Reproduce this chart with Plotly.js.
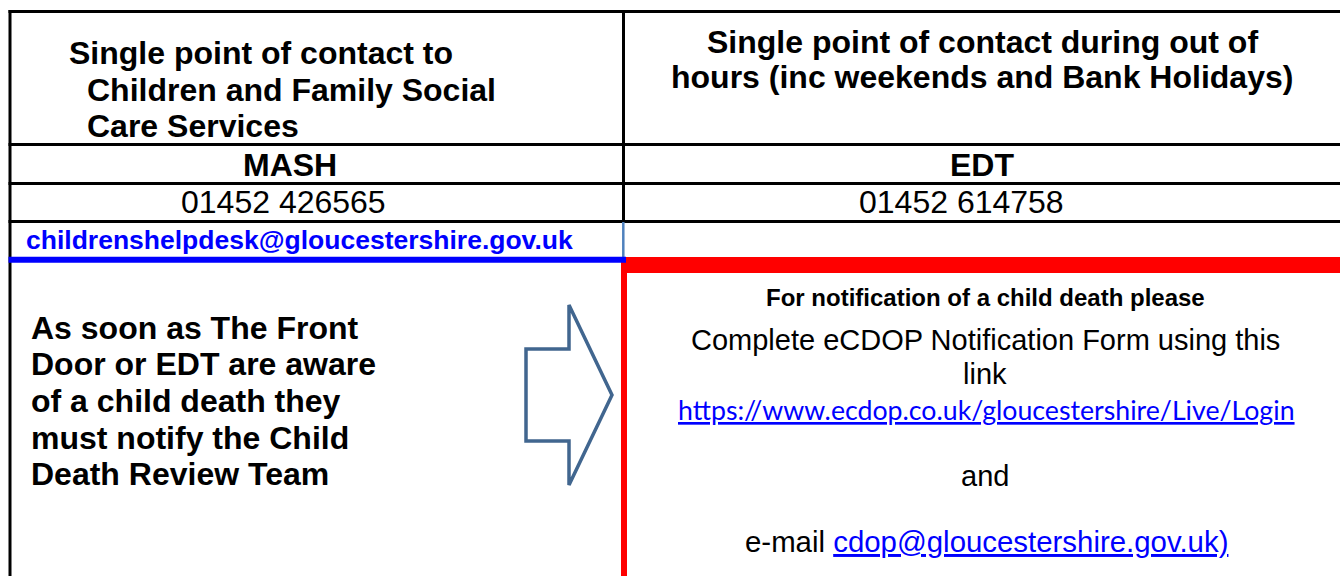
<!DOCTYPE html>
<html>
<head>
<meta charset="utf-8">
<script src="https://cdn.plot.ly/plotly-3.0.1.min.js"></script>
<style>html,body{margin:0;padding:0;background:#fff;}#chart{width:1340px;height:576px;}</style>
</head>
<body>
<div id="chart"></div>
<script>
// ---- content ----
const headerLeftLines = ["Single point of contact to", "Children and Family Social", "Care Services"];
const headerRightLines = ["Single point of contact during out of", "hours (inc weekends and Bank Holidays)"];
const services = ["MASH", "EDT"];
const phones = ["01452 426565", "01452 614758"];
const helpdeskEmail = "childrenshelpdesk@gloucestershire.gov.uk";
const actionLines = ["As soon as The Front", "Door or EDT are aware", "of a child death they", "must notify the Child", "Death Review Team"];
const notifyHeading = "For notification of a child death please";
const notifyLines = ["Complete eCDOP Notification Form using this", "link"];
const notifyUrl = "https://www.ecdop.co.uk/gloucestershire/Live/Login";
const notifyAnd = "and";
const emailPrefix = "e-mail ";
const cdopEmail = "cdop@gloucestershire.gov.uk)";

// ---- layout constants ----
const W = 1340, H = 576;
const FONT = "Liberation Sans, Arial, sans-serif";
const BLACK = "#000000", LINK = "#0000ff", RED = "#ff0000", ARROW = "#41668f";
const colX = 623.5;
const rowY = [11.5, 144.5, 183.5, 221.5];

const annotations = [];
function add(text, x, y, size, opts) {
  annotations.push(Object.assign({
    text: text, x: x, y: y, xref: "x", yref: "y", showarrow: false,
    xanchor: "center", yanchor: "middle",
    font: {family: FONT, size: size, color: BLACK}
  }, opts || {}));
}

const headerLeftX = [67, 85, 85];
const headerLeftY = [53, 90, 126];
headerLeftLines.forEach((t, i) => add("<b>" + t + "</b>", headerLeftX[i], headerLeftY[i], 32, {xanchor: "left"}));
const headerRightY = [42, 77];
headerRightLines.forEach((t, i) => add("<b>" + t + "</b>", 982, headerRightY[i], 32));

const serviceX = [290, 982];
services.forEach((t, i) => add("<b>" + t + "</b>", serviceX[i], 165, 32));
const phoneX = [283, 961];
phones.forEach((t, i) => add(t, phoneX[i], 202, 32));

add("<b>" + helpdeskEmail + "</b>", 24, 240, 26.5, {xanchor: "left", font: {family: FONT, size: 26.5, color: LINK}});

const actionY = [328, 364, 401, 438, 474];
actionLines.forEach((t, i) => add("<b>" + t + "</b>", 29, actionY[i], 32, {xanchor: "left"}));

add("<b>" + notifyHeading + "</b>", 985, 297, 24);
const notifyY = [340, 374];
notifyLines.forEach((t, i) => add(t, 985, notifyY[i], 29));
add('<span style="text-decoration:underline">' + notifyUrl + '</span>', 986, 410, 26.7,
    {font: {family: "Lato, Carlito, sans-serif", size: 26.7, color: LINK}});
add(notifyAnd, 985, 476, 29);
add(emailPrefix + '<span style="color:' + LINK + ';text-decoration:underline">' + cdopEmail + '</span>', 986, 541, 29.4);

// ---- table lines ----
const shapes = [];
function line(x0, y0, x1, y1, color, width) {
  shapes.push({type: "line", xref: "x", yref: "y", x0: x0, y0: y0, x1: x1, y1: y1, line: {color: color, width: width}});
}
function rect(x0, y0, x1, y1, color) {
  shapes.push({type: "rect", xref: "x", yref: "y", x0: x0, y0: y0, x1: x1, y1: y1, fillcolor: color, line: {width: 0}});
}
rowY.forEach(y => line(8.5, y, W, y, BLACK, 3));
line(10, 10, 10, H, BLACK, 3);
line(colX, 10, colX, 222, BLACK, 3);
line(623.3, 222, 623.3, 257, "#4f81bd", 2.5);
rect(621, 257, W, 273, RED);
rect(621, 257, 627, H, RED);
rect(8.5, 256.7, 626, 262.7, LINK);
// arrow outline
shapes.push({type: "path", xref: "x", yref: "y",
  path: "M526,349 L569,349 L569,305 L612,395 L569,485 L569,441 L526,441 Z",
  line: {color: ARROW, width: 3.5}, fillcolor: "rgba(0,0,0,0)"});

const layout = {
  width: W, height: H,
  margin: {l: 0, r: 0, t: 0, b: 0, pad: 0},
  paper_bgcolor: "#ffffff", plot_bgcolor: "#ffffff",
  font: {family: FONT, color: BLACK},
  xaxis: {range: [0, W], visible: false, fixedrange: true},
  yaxis: {range: [H, 0], visible: false, fixedrange: true},
  showlegend: false,
  shapes: shapes,
  annotations: annotations
};

Plotly.newPlot("chart", [{type: "scatter", x: [], y: [], hoverinfo: "skip"}], layout, {displayModeBar: false, staticPlot: true});
</script>
</body>
</html>
